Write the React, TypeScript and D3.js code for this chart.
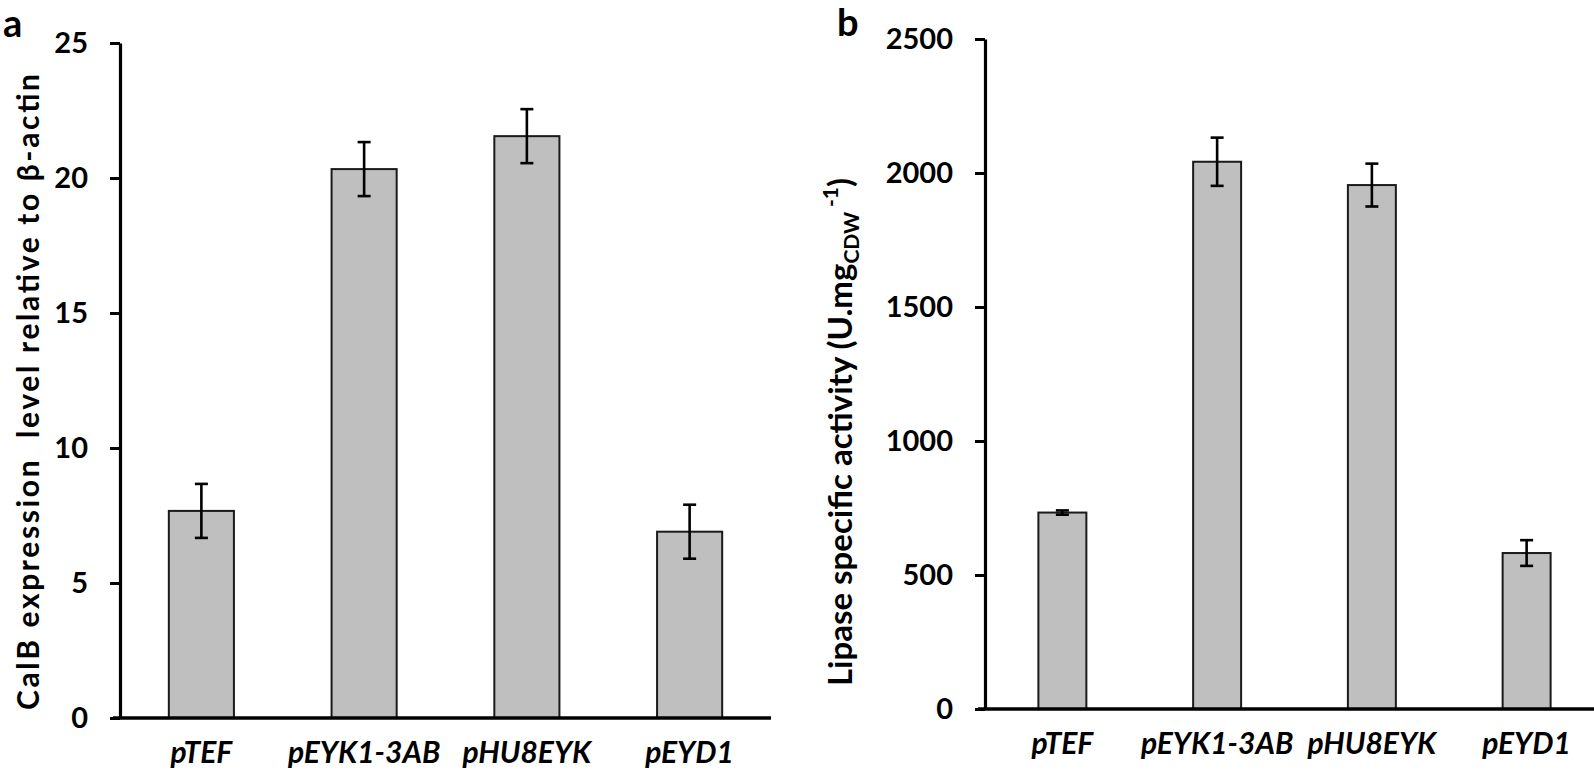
import React, { useEffect, useRef } from 'react'
import * as d3 from 'd3'

const categories = ['pTEF', 'pEYK1-3AB', 'pHU8EYK', 'pEYD1']

const expressionValues = [7.67, 20.33, 21.55, 6.9]
const expressionErrors = [1.0, 1.0, 1.0, 1.0]
const expressionTicks = [0, 5, 10, 15, 20, 25]

const activityValues = [733, 2042, 1955, 582]
const activityErrors = [8, 90, 80, 48]
const activityTicks = [0, 500, 1000, 1500, 2000, 2500]

const font = 'Lato, "Open Sans", sans-serif'

function drawPanel(svg, opts) {
    const { left, right, top, bottom, max, ticks, values, errors, inner, outer } = opts

    const x = d3.scaleBand()
        .domain(categories)
        .range([left, right])
        .paddingInner(inner)
        .paddingOuter(outer)

    const y = d3.scaleLinear()
        .domain([0, max])
        .range([bottom, top])

    const g = svg.append('g')

    // bars
    g.selectAll('rect')
        .data(values)
        .enter()
        .append('rect')
        .attr('x', (d, i) => x(categories[i]))
        .attr('y', (d) => y(d))
        .attr('width', x.bandwidth())
        .attr('height', (d) => y(0) - y(d))
        .attr('fill', '#bfbfbf')
        .attr('stroke', '#1a1a1a')
        .attr('stroke-width', 2)

    // error bars
    const eb = g.selectAll('g.err')
        .data(values)
        .enter()
        .append('g')
        .attr('class', 'err')
        .attr('stroke', '#000')
        .attr('stroke-width', 2.6)
    const cx = (i) => x(categories[i]) + x.bandwidth() / 2
    eb.append('line')
        .attr('x1', (d, i) => cx(i)).attr('x2', (d, i) => cx(i))
        .attr('y1', (d, i) => y(d + errors[i])).attr('y2', (d, i) => y(d - errors[i]))
    eb.append('line')
        .attr('x1', (d, i) => cx(i) - 6.5).attr('x2', (d, i) => cx(i) + 6.5)
        .attr('y1', (d, i) => y(d + errors[i])).attr('y2', (d, i) => y(d + errors[i]))
    eb.append('line')
        .attr('x1', (d, i) => cx(i) - 6.5).attr('x2', (d, i) => cx(i) + 6.5)
        .attr('y1', (d, i) => y(d - errors[i])).attr('y2', (d, i) => y(d - errors[i]))

    // y axis
    const yAxis = d3.axisLeft(y)
        .tickValues(ticks)
        .tickFormat(d3.format('d'))
        .tickSize(10)
        .tickSizeOuter(0)
        .tickPadding(22)
    const ya = g.append('g')
        .attr('transform', `translate(${left}, 0)`)
        .call(yAxis)
    ya.select('.domain').attr('stroke-width', 3.2).attr('stroke', '#000')
    ya.selectAll('.tick line').attr('stroke-width', 3).attr('stroke', '#000')
    ya.selectAll('.tick text')
        .attr('font-family', font)
        .attr('font-weight', 'bold')
        .attr('font-size', 29)
        .attr('fill', '#000')

    // x axis line
    g.append('line')
        .attr('x1', left - 7).attr('x2', opts.axisEnd)
        .attr('y1', y(0)).attr('y2', y(0))
        .attr('stroke', '#000')
        .attr('stroke-width', 3.6)

    // category labels
    g.selectAll('text.cat')
        .data(categories)
        .enter()
        .append('text')
        .attr('class', 'cat')
        .attr('x', (d) => x(d) + x.bandwidth() / 2)
        .attr('y', y(0) + 45)
        .attr('text-anchor', 'middle')
        .attr('font-family', font)
        .attr('font-weight', 'bold')
        .attr('font-style', 'italic')
        .attr('font-size', 30)
        .text((d) => d)
}

function App() {
    const svgRef = useRef(null)

    useEffect(() => {
        const svg = d3.select(svgRef.current)
        svg.selectAll('*').remove()

        drawPanel(svg, {
            left: 120, right: 771, top: 43, bottom: 718, max: 25,
            ticks: expressionTicks, values: expressionValues, errors: expressionErrors,
            inner: 0.6, outer: 0.3, axisEnd: 771,
        })

        drawPanel(svg, {
            left: 985, right: 1604, top: 39, bottom: 709, max: 2500,
            ticks: activityTicks, values: activityValues, errors: activityErrors,
            inner: 0.69, outer: 0.345, axisEnd: 1594,
        })

        // y titles
        svg.append('text')
            .attr('transform', 'translate(39, 392) rotate(-90)')
            .attr('text-anchor', 'middle')
            .attr('font-family', font)
            .attr('font-weight', 'bold')
            .attr('font-size', 30)
            .attr('textLength', 636)
            .attr('lengthAdjust', 'spacing')
            .style('white-space', 'pre')
            .text('CalB expression  level relative to β-actin')

        const t2 = svg.append('text')
            .attr('transform', 'translate(852, 432) rotate(-90)')
            .attr('text-anchor', 'middle')
            .attr('font-family', font)
            .attr('font-weight', 'bold')
            .attr('font-size', 33)
        t2.append('tspan').text('Lipase specific activity (U.mg')
        t2.append('tspan').attr('font-size', 21).attr('dy', 7).text('CDW')
        t2.append('tspan').attr('font-size', 21).attr('dy', -21).text(' -1')
        t2.append('tspan').attr('dy', 14).text(')')

        // panel letters
        svg.append('text').attr('x', 3).attr('y', 37)
            .attr('font-family', font).attr('font-weight', 'bold').attr('font-size', 38).text('a')
        svg.append('text').attr('x', 837).attr('y', 36)
            .attr('font-family', font).attr('font-weight', 'bold').attr('font-size', 38).text('b')
    }, [])

    return (
        <svg
            ref={svgRef}
            width={1594}
            height={774}
            style={{ position: 'absolute', left: 0, top: 0, background: '#fff' }}
        ></svg>
    )
}

export default App
